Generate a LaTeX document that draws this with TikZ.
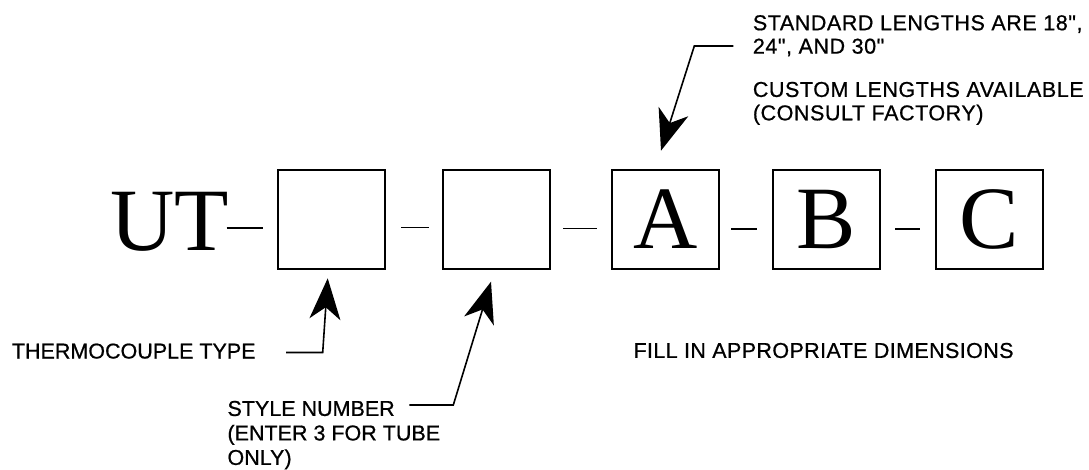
\documentclass[tikz,border=0pt]{standalone}
\usepackage{fontspec}
\setmainfont{Liberation Serif}
\newfontfamily\labelfont[FakeBold=0.7]{Liberation Sans}
\newfontfamily\widelabelfont[FakeBold=0.7, LetterSpace=2.6]{Liberation Sans}
\newfontfamily\midlabelfont[FakeBold=0.7, LetterSpace=1.8]{Liberation Sans}
\usetikzlibrary{arrows.meta,calc}

\tikzset{
  codebox/.style={draw, line width=1.6pt, minimum width=107pt, minimum height=99pt,
    inner sep=0pt, font=\fontsize{89}{89}\selectfont},
  codechar/.style={inner sep=0pt, font=\fontsize{89}{89}\selectfont},
  hyphen/.style={line width=1.9pt},
  note/.style={inner sep=0pt, anchor=north west, align=left,
    font=\labelfont\fontsize{21.5}{23.4}\selectfont},
  widenote/.style={note, font=\widelabelfont\fontsize{21.5}{23.4}\selectfont},
  midnote/.style={note, font=\midlabelfont\fontsize{21.5}{23.4}\selectfont},
  pointer/.style={line width=1.6pt,
    -{Stealth[length=41pt, width=31pt, inset=12pt]}},
}

\begin{document}
\begin{tikzpicture}[x=1pt, y=-1pt]
  \useasboundingbox (0,0) rectangle (1089,470);

  % part code: UT-[ ]-[ ]-A-B-C
  \node[codechar, anchor=base west] (ut) at (110.5,251) {UT};
  \node[codebox] (b1) at (331.5,219.4) {};
  \node[codebox] (b2) at (496.7,219.4) {};
  \node[codebox] (bA) at (665.2,219.4) {A};
  \node[codebox] (bB) at (826.2,219.4) {B};
  \node[codebox] (bC) at (989.6,219.4) {C};

  \draw[hyphen] (226.7,227.7) -- (262.7,227.7);
  \draw[hyphen] (401,227.5) -- (429.3,227.5);
  \draw[hyphen] (563,228.5) -- (597,228.5);
  \draw[hyphen] (731.4,229) -- (757.4,229);
  \draw[hyphen] (895,229) -- (920,229);

  % notes
  \node[widenote] (std) at (752.7,15) {STANDARD LENGTHS ARE 18",\\24", AND 30"};
  \node[widenote] (custom) at (752.7,81.7) {CUSTOM LENGTHS AVAILABLE\\(CONSULT FACTORY)};
  \node[note] (thermo) at (11.7,343.3) {THERMOCOUPLE TYPE};
  \node[note, font=\labelfont\fontsize{21.5}{24.5}\selectfont] (style) at (227.3,400.7)
    {STYLE NUMBER\\(ENTER 3 FOR TUBE\\ONLY)};
  \node[midnote] (fill) at (633.3,342.7) {FILL IN APPROPRIATE DIMENSIONS};

  % leader lines
  \coordinate (p1s) at (286,352.5);
  \coordinate (p1b) at (322.7,352.5);
  \coordinate (p1t) at (327.7,278.3);
  \draw[pointer] (p1s) -- (p1b) -- (p1t);

  \coordinate (p2s) at (409.3,405);
  \coordinate (p2b) at (453.3,405);
  \coordinate (p2t) at (491,281.7);
  \draw[pointer] (p2s) -- (p2b) -- (p2t);

  \coordinate (p3s) at (733.3,46);
  \coordinate (p3b) at (694.3,46);
  \coordinate (p3t) at (661,150.7);
  \draw[pointer] (p3s) -- (p3b) -- (p3t);
\end{tikzpicture}
\end{document}
